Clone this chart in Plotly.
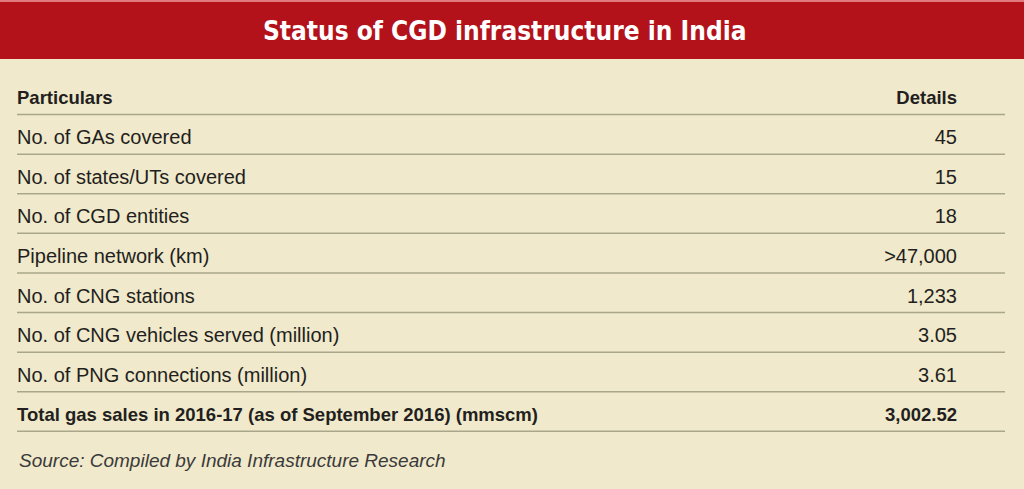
import plotly.graph_objects as go

# table contents
header = ["Particulars", "Details"]
particulars = [
    "No. of GAs covered",
    "No. of states/UTs covered",
    "No. of CGD entities",
    "Pipeline network (km)",
    "No. of CNG stations",
    "No. of CNG vehicles served (million)",
    "No. of PNG connections (million)",
    "Total gas sales in 2016-17 (as of September 2016) (mmscm)",
]
details = ["45", "15", "18", ">47,000", "1,233", "3.05", "3.61", "3,002.52"]
bold_rows = [7]  # the total row is set in bold
title = "Status of CGD infrastructure in India"
source = "Source: Compiled by India Infrastructure Research"

RED = "#b3121b"
BEIGE = "#f0e9cb"
RULE = "#a9a68b"
INK = "#231f20"
BODY_FONT = "Liberation Sans"

# header row + data rows, row index used as y
labels = ["<b>%s</b>" % header[0]] + [
    ("<b>%s</b>" % p) if i in bold_rows else p for i, p in enumerate(particulars)
]
values = ["<b>%s</b>" % header[1]] + [
    ("<b>%s</b>" % d) if i in bold_rows else d for i, d in enumerate(details)
]
rows = list(range(len(labels)))
# bold text in the original is set a bit narrower
sizes = [18.5 if ("<b>" in t) else 20 for t in labels]

fig = go.Figure()
fig.add_trace(go.Scatter(
    x=[17] * len(rows), y=rows, text=labels, mode="text",
    textposition="middle right",
    textfont=dict(family=BODY_FONT, size=sizes, color=INK),
    hoverinfo="skip", showlegend=False,
))
fig.add_trace(go.Scatter(
    x=[957] * len(rows), y=rows, text=values, mode="text",
    textposition="middle left",
    textfont=dict(family=BODY_FONT, size=sizes, color=INK),
    hoverinfo="skip", showlegend=False,
))

# horizontal rules under each row
for r in rows:
    fig.add_shape(type="line", xref="x", yref="y", x0=17, x1=1005,
                  y0=r + 0.38, y1=r + 0.38, line=dict(color=RULE, width=1.5))

# red title band
fig.add_shape(type="rect", xref="paper", yref="paper", x0=0, x1=1,
              y0=1 - 59 / 489, y1=1, fillcolor=RED, line_width=0, layer="below")
fig.add_shape(type="rect", xref="paper", yref="paper", x0=0, x1=1,
              y0=1 - 2 / 489, y1=1, fillcolor="#e07a7e", line_width=0, layer="below")

fig.add_annotation(text="<b>%s</b>" % title, xref="paper", yref="paper",
                   x=504 / 1024, y=1 - 31 / 489, xanchor="center", yanchor="middle",
                   showarrow=False,
                   font=dict(family="DejaVu Sans Condensed, Liberation Sans", size=26,
                             color="white"))
fig.add_annotation(text="<i>%s</i>" % source, xref="paper", yref="paper",
                   x=17 / 1024, y=1 - 460 / 489, xanchor="left", yanchor="middle",
                   showarrow=False,
                   font=dict(family=BODY_FONT, size=19, color="#3a3a3a"))

fig.update_layout(
    width=1024, height=489,
    margin=dict(l=0, r=0, t=0, b=0),
    paper_bgcolor=BEIGE, plot_bgcolor=BEIGE,
    xaxis=dict(range=[0, 1024], visible=False, fixedrange=True),
    yaxis=dict(range=[(489 - 99.5) / 39.6, -99.5 / 39.6], visible=False, fixedrange=True),
)

fig.write_html("out.html", config={"displayModeBar": False},
               post_script="document.body.style.margin='0px';")
